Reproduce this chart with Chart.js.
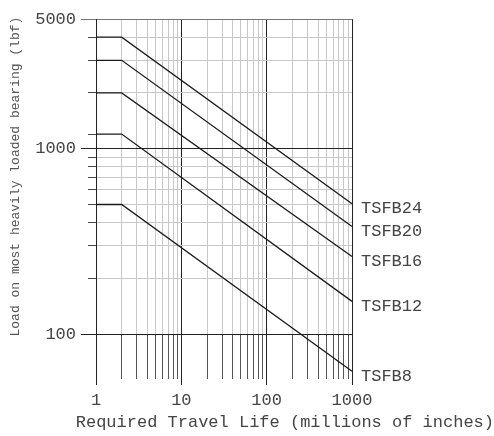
<!DOCTYPE html>
<html lang="en">
<head>
<meta charset="UTF-8">
<title>Load vs required travel life</title>
<style>
  html, body { margin: 0; padding: 0; background: #fff; }
</style>
</head>
<body>
<canvas id="lifeChart" width="494" height="436"></canvas>
<script src="https://cdn.jsdelivr.net/npm/chart.js"></script>
<script>
// travel life (millions of inches) where each curve bends / ends
const travelLife = [1, 2, 1000];

const seriesNames = ['TSFB24', 'TSFB20', 'TSFB16', 'TSFB12', 'TSFB8'];
const tsfb24 = [4000, 4000, 505];
const tsfb20 = [3000, 3000, 380];
const tsfb16 = [2000, 2000, 262];
const tsfb12 = [1200, 1200, 150];
const tsfb8 = [500, 500, 63];

const xMajorTicks = [1, 10, 100, 1000];
const xMinorTicks = [2, 3, 4, 5, 6, 7, 8, 9, 20, 30, 40, 50, 60, 70, 80, 90, 200, 300, 400, 500, 600, 700, 800, 900];
const yMajorTicks = [100, 1000, 5000];
const yMinorTicks = [200, 300, 400, 500, 600, 700, 800, 900, 1200, 2000, 3000, 4000];

const mono = 'Liberation Mono';
const allSeries = [tsfb24, tsfb20, tsfb16, tsfb12, tsfb8];

const datasets = allSeries.map((loads, i) => ({
    label: seriesNames[i],
    data: travelLife.map((x, j) => ({ x: x, y: loads[j] })),
    borderColor: '#1a1a1a',
    borderWidth: 1.3,
    pointRadius: 0,
    tension: 0,
    clip: false
}));

const endLoads = allSeries.map(s => s[s.length - 1]);

const setTicks = list => scale => { scale.ticks = list.map(v => ({ value: v })); };

new Chart(document.getElementById('lifeChart'), {
    type: 'line',
    data: { datasets: datasets },
    options: {
        responsive: false,
        animation: false,
        layout: { padding: { top: 15, right: 0, left: 0, bottom: 0 } },
        plugins: {
            legend: { display: false },
            tooltip: { enabled: false },
            title: {
                display: true,
                text: 'Required Travel Life (millions of inches)',
                position: 'bottom',
                align: 'end',
                color: '#444',
                font: { family: mono, size: 17, weight: 'normal' },
                padding: { top: 0, bottom: 3 }
            }
        },
        scales: {
            x2: {
                type: 'logarithmic',
                position: 'bottom',
                min: 1, max: 1000,
                weight: 0,
                z: -1,
                afterBuildTicks: setTicks(xMinorTicks),
                afterFit: s => { s.height = 0; },
                ticks: { display: false },
                border: { display: false },
                grid: { color: '#c8c8c8', tickColor: '#555', tickLength: 45 }
            },
            x: {
                type: 'logarithmic',
                position: 'bottom',
                min: 1, max: 1000,
                weight: 1,
                afterBuildTicks: setTicks(xMajorTicks),
                afterFit: s => { s.height = 78.6; },
                ticks: {
                    autoSkip: false,
                    maxRotation: 0,
                    padding: 5,
                    color: '#444',
                    font: { family: mono, size: 17 },
                    callback: v => String(v)
                },
                border: { color: '#222', width: 1 },
                grid: { color: '#222', tickColor: '#222', tickLength: 51 }
            },
            y2: {
                type: 'logarithmic',
                position: 'left',
                min: 100, max: 5000,
                weight: 0,
                z: -1,
                afterBuildTicks: setTicks(yMinorTicks),
                afterFit: s => { s.width = 0; },
                ticks: { display: false },
                border: { display: false },
                grid: {
                    color: c => c.tick && c.tick.value === 1200 ? 'rgba(0,0,0,0)' : '#c8c8c8',
                    tickColor: '#444',
                    tickLength: 8
                }
            },
            y: {
                type: 'logarithmic',
                position: 'left',
                min: 100, max: 5000,
                weight: 1,
                afterBuildTicks: setTicks(yMajorTicks),
                afterFit: s => { s.width = 96; },
                ticks: {
                    autoSkip: false,
                    padding: 5,
                    color: '#444',
                    font: { family: mono, size: 17 },
                    callback: v => String(v)
                },
                title: {
                    display: true,
                    text: 'Load on most heavily loaded bearing (lbf)',
                    color: '#555',
                    font: { family: mono, size: 13 },
                    padding: { top: 8, bottom: 0 }
                },
                border: { color: '#222', width: 1 },
                grid: {
                    color: c => c.tick && c.tick.value === 5000 ? '#777' : '#222',
                    tickColor: c => c.tick && c.tick.value === 5000 ? '#777' : '#222',
                    tickLength: 15
                }
            },
            yLabels: {
                type: 'logarithmic',
                position: 'right',
                min: 100, max: 5000,
                afterBuildTicks: setTicks(endLoads),
                afterFit: s => { s.width = 142; },
                ticks: {
                    autoSkip: false,
                    padding: 9,
                    labelOffset: 5,
                    color: '#444',
                    font: { family: mono, size: 17 },
                    callback: (v, i) => seriesNames[i]
                },
                border: { display: false },
                grid: { display: false, drawTicks: false }
            }
        }
    }
});
</script>
</body>
</html>
